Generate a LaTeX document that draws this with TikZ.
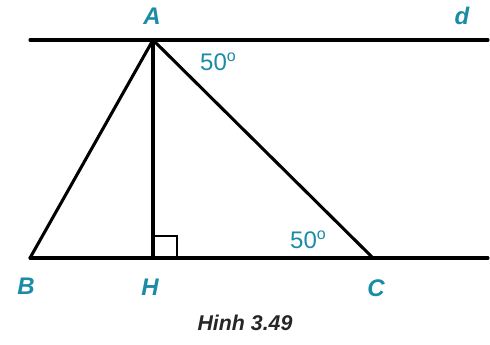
\documentclass[tikz,border=0pt]{standalone}
\usepackage{fontspec}
\setsansfont{Liberation Sans}
\usepackage{tikz}
\usetikzlibrary{positioning,calc}
\definecolor{labelblue}{HTML}{1A8CA6}
\newcommand{\dego}{\raisebox{0.38em}{\fontsize{12}{12}\selectfont o}}

\begin{document}
\begin{tikzpicture}[x=0.75pt,y=0.75pt,
    line/.style={black, line width=2.3pt, line cap=round, line join=round},
    ptlabel/.style={font=\sffamily\bfseries\itshape\fontsize{18}{18}\selectfont, color=labelblue},
    anglabel/.style={font=\sffamily\fontsize{18}{18}\selectfont, color=labelblue}]
  \useasboundingbox (0,0) rectangle (490,345);
  % points
  \coordinate (A) at (153,305);
  \coordinate (B) at (30,87);
  \coordinate (H) at (153,87);
  \coordinate (C) at (373,87);
  \coordinate (dl) at (30,305);
  \coordinate (dr) at (488,305);
  \coordinate (br) at (488,87);
  % lines
  \draw[line] (dl) -- (dr);
  \draw[line] (B) -- (br);
  \draw[line] (B) -- (A) -- (C);
  \draw[line] (A) -- (H);
  \draw[black, line width=2pt] ($(H)+(0,22)$) -- ++(24,0) -- ++(0,-22);
  % labels
  \node[ptlabel] (lA) at (152,329) {A};
  \node[ptlabel] (ld) at (462,329) {d};
  \node[ptlabel] (lB) at (26,59) {B};
  \node[ptlabel] (lH) at (150,58) {H};
  \node[ptlabel] (lC) at (376,57) {C};
  \node[anglabel] (a1) at (218,283) {50\dego};
  \node[anglabel] (a2) at (308,105) {50\dego};
  \node[font=\sffamily\bfseries\itshape\fontsize{16}{16}\selectfont, color=black!85] (cap) at (245,22) {Hinh 3.49};
\end{tikzpicture}
\end{document}
